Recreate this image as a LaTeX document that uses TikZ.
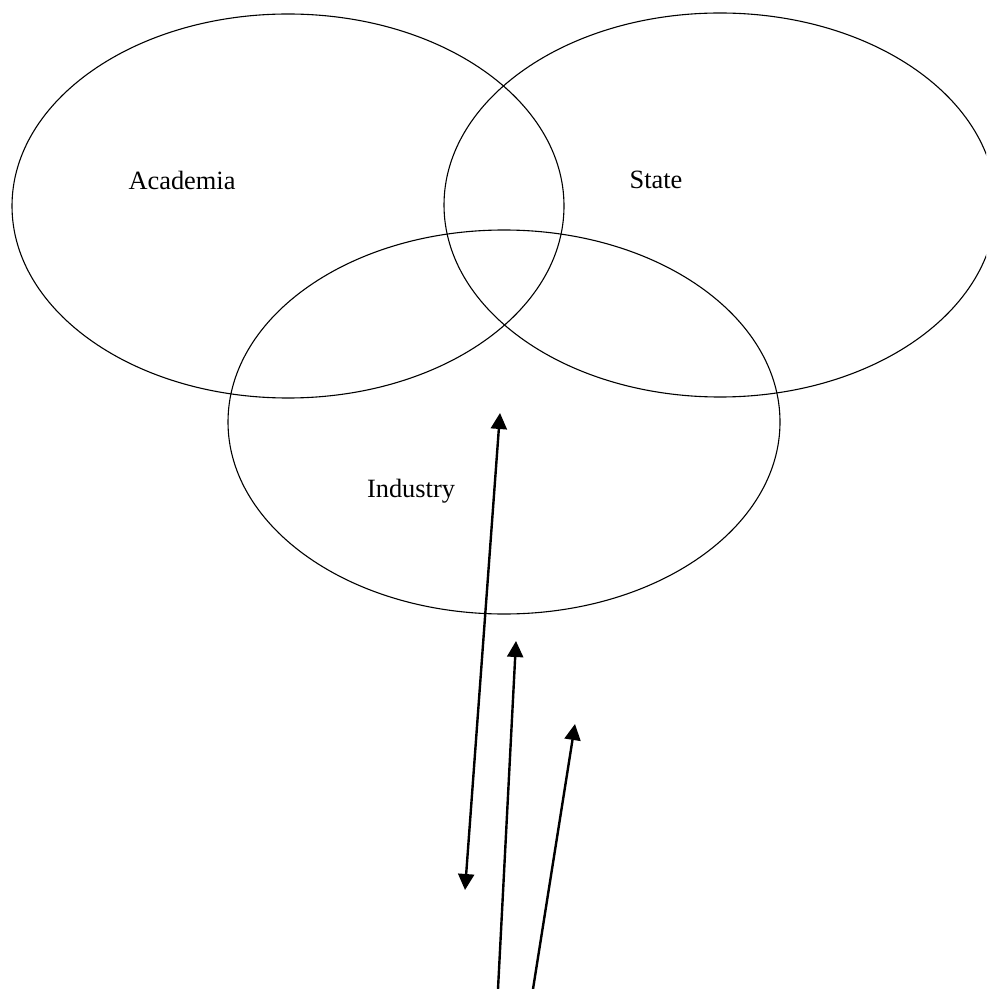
\documentclass[tikz,border=0pt]{standalone}
\usepackage{fontspec}
\setmainfont{Liberation Serif}
\usetikzlibrary{shapes.geometric, arrows.meta, positioning}

\begin{document}
\begin{tikzpicture}[
    x=0.5pt, y=-0.5pt,
    >={Triangle[length=8pt, width=8pt]},
    sphere/.style={draw, ellipse, line width=0.55pt, minimum width=276pt, minimum height=192pt, inner sep=0pt, outer sep=0pt},
    label/.style={font=\fontsize{13.2}{15}\selectfont},
    link/.style={line width=1.2pt}
  ]
    \useasboundingbox (0,0) rectangle (986,989);
    \clip (0,0) rectangle (986,989);

    % the three spheres
    \node[sphere] (acad) at (288,206) {};
    \node[sphere] (state) at (720,205) {};
    \node[sphere] (ind) at (504,422) {};

    \node[label] (acadtxt) at (182,180) {Academia};
    \node[label] (statetxt) at (656,180) {State};
    \node[label] (indtxt) at (411,491) {Industry};

    % arrow ends
    \coordinate (a1) at (500,413);
    \coordinate (a2) at (465,890);
    \coordinate (b1) at (498,989);
    \coordinate (b2) at (516,641);
    \coordinate (c1) at (533,989);
    \coordinate (c2) at (575,724);

    \draw[link, <->] (a2) -- (a1);
    \draw[link, ->] (b1) -- (b2);
    \draw[link, ->] (c1) -- (c2);
\end{tikzpicture}
\end{document}
